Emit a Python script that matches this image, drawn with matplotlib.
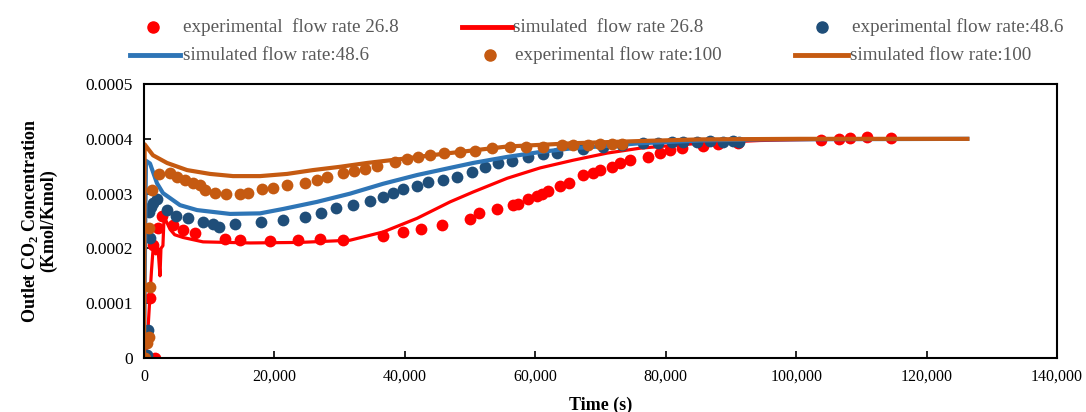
import numpy as np
import matplotlib
matplotlib.use("Agg")
import matplotlib.pyplot as plt
from matplotlib.lines import Line2D
from matplotlib.ticker import FuncFormatter, MultipleLocator

plt.rcParams['font.family'] = ['Liberation Serif', 'DejaVu Serif']
plt.rcParams['mathtext.fontset'] = 'custom'
plt.rcParams['mathtext.rm'] = 'Liberation Serif'
plt.rcParams['mathtext.bf'] = 'Liberation Serif:bold'

# experimental, flow rate 26.8 (time s, conc 1e-4 Kmol/Kmol)
exp268_t = [300, 770, 1690, 920, 1380, 2150, 2760, 4450, 5980, 7820, 12430, 14730,
            19330, 23620, 26990, 30520, 36660, 39720, 42490, 45710, 50010, 51390,
            54150, 56600, 57370, 58900, 60290, 61050, 61970, 63810, 65200, 67340,
            68880, 69950, 71790, 73020, 74560, 77310, 79150, 80690, 82530, 85750,
            88050, 91120, 103850, 106610, 108300, 110910, 114590]
exp268_c = [0.02, 0.0, 0.0, 1.1, 2.06, 2.37, 2.6, 2.43, 2.34, 2.28, 2.17, 2.15,
            2.14, 2.15, 2.17, 2.16, 2.22, 2.3, 2.35, 2.43, 2.54, 2.65,
            2.72, 2.79, 2.81, 2.9, 2.96, 2.99, 3.05, 3.14, 3.19, 3.34,
            3.38, 3.43, 3.49, 3.56, 3.61, 3.67, 3.74, 3.8, 3.83, 3.87,
            3.9, 3.92, 3.98, 4.0, 4.01, 4.03, 4.01]

# simulated, flow rate 26.8
sim268_t = [0, 300, 600, 920, 1150, 1380, 1800, 2150, 2450, 2600, 2900, 3070, 3400,
            3990, 4700, 5980, 9050, 16260, 23930, 31600, 36660, 41880, 46940, 50470,
            55680, 60750, 65810, 71020, 76090, 85290, 94500, 103700, 126250]
sim268_c = [0.0, 0.1, 0.5, 1.15, 1.6, 1.97, 1.9, 2.0, 1.5, 2.0, 2.05, 2.55, 2.5,
            2.35, 2.25, 2.2, 2.12, 2.1, 2.11, 2.15, 2.3, 2.55, 2.85, 3.03,
            3.28, 3.47, 3.61, 3.74, 3.83, 3.92, 3.97, 3.99, 4.0]

# experimental, flow rate 48.6
exp486_t = [460, 610, 920, 770, 1000, 1380, 1990, 3530, 4910, 6750, 9050, 10580,
            11510, 13960, 17950, 21320, 24700, 27150, 29450, 32060, 34670, 36660,
            38200, 39730, 41880, 43570, 45870, 48010, 50320, 52310, 54300, 56450,
            58900, 61210, 63350, 67340, 70410, 73330, 76550, 78850, 80990, 82680,
            84830, 86820, 88820, 90350, 91270]
exp486_c = [0.05, 0.51, 2.19, 2.66, 2.75, 2.83, 2.9, 2.7, 2.59, 2.55, 2.48, 2.44,
            2.39, 2.44, 2.48, 2.52, 2.57, 2.65, 2.74, 2.8, 2.87, 2.94,
            3.01, 3.08, 3.14, 3.21, 3.25, 3.3, 3.39, 3.49, 3.56, 3.59,
            3.67, 3.72, 3.74, 3.81, 3.85, 3.89, 3.92, 3.93, 3.94, 3.95,
            3.95, 3.96, 3.95, 3.96, 3.94]

# simulated, flow rate 48.6
sim486_t = [0, 150, 300, 920, 1990, 2910, 5520, 8130, 13190, 17790, 21320, 26540,
            31600, 36660, 41880, 46940, 50470, 55680, 60750, 65810, 71020, 76090,
            85290, 94500, 126250]
sim486_c = [0.0, 2.0, 3.6, 3.55, 3.19, 3.01, 2.79, 2.7, 2.63, 2.64, 2.72, 2.85,
            3.0, 3.18, 3.34, 3.47, 3.56, 3.67, 3.76, 3.83, 3.87, 3.92,
            3.97, 3.99, 4.0]

# experimental, flow rate 100
exp100_t = [150, 460, 800, 900, 770, 1230, 2300, 3990, 5060, 6290, 7520, 8590,
            9360, 10890, 12580, 14730, 15950, 18100, 19790, 21940, 24700, 26540,
            28070, 30530, 32210, 33900, 35740, 38500, 40340, 42030, 43870, 46020,
            48470, 50780, 53380, 56140, 58600, 61210, 64120, 65810, 68110, 69950,
            71790, 73330]
exp100_c = [0.0, 0.27, 0.38, 1.3, 2.37, 3.07, 3.35, 3.37, 3.3, 3.25, 3.19, 3.16,
            3.07, 3.02, 2.99, 2.99, 3.01, 3.08, 3.1, 3.15, 3.19, 3.25,
            3.3, 3.37, 3.41, 3.45, 3.5, 3.58, 3.63, 3.67, 3.7, 3.74,
            3.76, 3.78, 3.83, 3.85, 3.86, 3.86, 3.89, 3.89, 3.89, 3.9,
            3.9, 3.9]

# simulated, flow rate 100
sim100_t = [0, 100, 1380, 3530, 6600, 10120, 13650, 17790, 21940, 25920, 30070,
            34210, 39270, 45410, 55680, 65810, 76090, 85290, 100630, 126250]
sim100_c = [0.0, 3.9, 3.7, 3.56, 3.43, 3.36, 3.32, 3.32, 3.36, 3.43, 3.49,
            3.56, 3.63, 3.72, 3.86, 3.92, 3.96, 3.99, 4.0, 4.0]

RED = '#FF0000'
NAVY = '#1F4E79'
BLUE = '#2E75B6'
ORANGE = '#C55A11'

fig = plt.figure(figsize=(10.86, 4.12), dpi=100)
ax = fig.add_axes([0.1326, 0.131, 0.8407, 0.665])

scale = 1e-4
ms = 72
ax.scatter(exp268_t, np.array(exp268_c) * scale, s=ms, color=RED, zorder=2, linewidths=0)
ax.plot(sim268_t, np.array(sim268_c) * scale, color=RED, lw=2.3, zorder=3)
ax.scatter(exp486_t, np.array(exp486_c) * scale, s=ms, color=NAVY, zorder=4, linewidths=0)
ax.plot(sim486_t, np.array(sim486_c) * scale, color=BLUE, lw=3.0, zorder=5)
ax.scatter(exp100_t, np.array(exp100_c) * scale, s=ms, color=ORANGE, zorder=6, linewidths=0)
ax.plot(sim100_t, np.array(sim100_c) * scale, color=ORANGE, lw=3.0, zorder=7)

ax.set_xlim(0, 140000)
ax.set_ylim(0, 0.0005)
ax.xaxis.set_major_locator(MultipleLocator(20000))
ax.yaxis.set_major_locator(MultipleLocator(0.0001))
ax.xaxis.set_major_formatter(FuncFormatter(lambda v, p: f'{v:,.0f}'))
ax.yaxis.set_major_formatter(FuncFormatter(lambda v, p: '0' if v == 0 else f'{v:.4f}'))
ax.tick_params(direction='in', length=5, width=1.2, labelsize=11.5, pad=8)
ax.tick_params(axis='y', labelsize=12.5)
for s in ax.spines.values():
    s.set_linewidth(1.5)
    s.set_zorder(10)

ax.set_xlabel('Time (s)', fontsize=13, fontweight='bold', labelpad=8)
ax.set_ylabel('Outlet CO$_\\mathbf{2}$ Concentration\n(Kmol/Kmol)',
              fontsize=13, fontweight='bold', labelpad=20, linespacing=1.0)

# legend laid out like the original (two rows, uneven columns)
W, H = 1086.0, 412.0
entries = [
    ('dot', RED, 153, 27, 183, 'experimental  flow rate 26.8'),
    ('line', RED, (462, 512), 27, 513, 'simulated  flow rate 26.8'),
    ('dot', NAVY, 822, 27, 852, 'experimental flow rate:48.6'),
    ('line', BLUE, (130, 180), 55, 183, 'simulated flow rate:48.6'),
    ('dot', ORANGE, 490, 55, 515, 'experimental flow rate:100'),
    ('line', ORANGE, (795, 848), 55, 850, 'simulated flow rate:100'),
]
for kind, col, hx, y, tx, label in entries:
    yf = 1 - y / H
    if kind == 'dot':
        fig.add_artist(Line2D([hx / W], [yf], marker='o', ms=8, color=col, lw=0))
    else:
        fig.add_artist(Line2D([hx[0] / W, hx[1] / W], [yf, yf], color=col, lw=3.5))
    fig.text(tx / W, yf, label, fontsize=13.8, color='#595959', va='center', ha='left')

fig.savefig('out.png', dpi=100)
